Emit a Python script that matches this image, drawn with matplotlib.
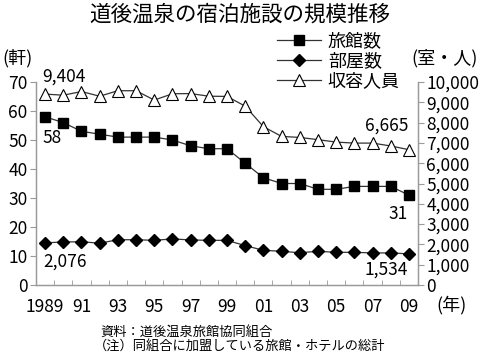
import matplotlib
matplotlib.use("Agg")
import matplotlib.pyplot as plt
from matplotlib.ticker import MultipleLocator, FixedLocator, FuncFormatter

plt.rcParams['font.family'] = ['Noto Sans CJK JP', 'DejaVu Sans']

years = list(range(1989, 2010))
year_labels = ['1989', '91', '93', '95', '97', '99', '01', '03', '05', '07', '09']

# 旅館数 (軒)
ryokan = [58, 56, 53, 52, 51, 51, 51, 50, 48, 47, 47,
          42, 37, 35, 35, 33, 33, 34, 34, 34, 31]
# 部屋数 (室)
rooms = [2076, 2120, 2130, 2060, 2230, 2230, 2200, 2270, 2220, 2200, 2200,
         1940, 1710, 1660, 1590, 1660, 1610, 1610, 1580, 1580, 1534]
# 収容人員 (人)
capacity = [9404, 9350, 9530, 9300, 9570, 9570, 9110, 9420, 9430, 9300, 9290,
            8810, 7800, 7320, 7270, 7160, 7040, 6990, 6990, 6850, 6665]

x = list(range(len(years)))
spine_c = '#9a9a9a'
line_c = '#333333'

fig = plt.figure(figsize=(4.8, 3.53), dpi=100)
ax = fig.add_axes([36/480, 1 - 285/353, (418-36)/480, (285-82)/353])
ax2 = ax.twinx()

h1, = ax.plot(x, ryokan, color=line_c, lw=0.9, marker='s', ms=7,
              mfc='black', mec='black', label='旅館数', zorder=3)
h2, = ax2.plot(x, rooms, color=line_c, lw=0.9, marker='D', ms=6,
               mfc='black', mec='black', label='部屋数', zorder=3)
h3, = ax2.plot(x, capacity, color=line_c, lw=0.9, marker='^', ms=9,
               mfc='white', mec='black', mew=0.8, label='収容人員', zorder=3)

ax.set_xlim(-0.5, len(years) - 0.5)
ax.set_ylim(0, 70)
ax2.set_ylim(0, 10000)

ax.yaxis.set_major_locator(MultipleLocator(10))
ax2.yaxis.set_major_locator(MultipleLocator(1000))
ax2.yaxis.set_major_formatter(FuncFormatter(lambda v, p: f'{int(v):,}'))

ax.set_xticks(x[::2])
ax.set_xticklabels(year_labels)
ax.xaxis.set_minor_locator(FixedLocator([i - 0.5 for i in range(len(years) + 1)]))
ax.tick_params(axis='x', which='major', length=0, labelsize=12.5, pad=9)
ax.tick_params(axis='x', which='minor', direction='in', length=3.5, color=spine_c)
ax.tick_params(axis='y', direction='out', length=4, color=spine_c, labelsize=12.5, pad=2)
ax2.tick_params(axis='y', direction='out', length=4, color=spine_c, labelsize=12.5, pad=2)

for a in (ax, ax2):
    a.spines['top'].set_visible(False)
    for s in ('left', 'right', 'bottom'):
        a.spines[s].set_color(spine_c)
        a.spines[s].set_linewidth(0.9)

# value annotations
ax2.text(-0.15, 10250, f'{capacity[0]:,}', fontsize=12.5, ha='left', va='center')
ax.text(-0.12, 50.7, f'{ryokan[0]}', fontsize=12.5, ha='left', va='center')
ax2.text(-0.12, 1130, f'{rooms[0]:,}', fontsize=12.5, ha='left', va='center')
ax2.text(19.95, 7830, f'{capacity[-1]:,}', fontsize=12.5, ha='right', va='center')
ax.text(19.95, 24.5, f'{ryokan[-1]}', fontsize=12.5, ha='right', va='center')
ax2.text(19.95, 740, f'{rooms[-1]:,}', fontsize=12.5, ha='right', va='center')

ax2.legend(handles=[h1, h2, h3], loc='upper left', bbox_to_anchor=(270/480, 1 - 25/353),
           bbox_transform=fig.transFigure, frameon=False, fontsize=13,
           handlelength=2.4, handletextpad=0.4, labelspacing=0.1, borderaxespad=0)

fig.text(0.5, 1 - 15/353, '道後温泉の宿泊施設の規模推移', fontsize=15.5, ha='center', va='center')
fig.text(2/480, 1 - 58/353, '(軒)', fontsize=13, ha='left', va='center')
fig.text(478/480, 1 - 58/353, '(室・人)', fontsize=13, ha='right', va='center')
fig.text(467/480, 1 - 305/353, '(年)', fontsize=13, ha='right', va='center')
fig.text(100/480, 1 - 332/353, '資料：道後温泉旅館協同組合', fontsize=9.5, ha='left', va='center')
fig.text(94/480, 1 - 347/353, '（注）同組合に加盟している旅館・ホテルの総計', fontsize=9.5,
         ha='left', va='center')

fig.savefig('out.png', dpi=100)
